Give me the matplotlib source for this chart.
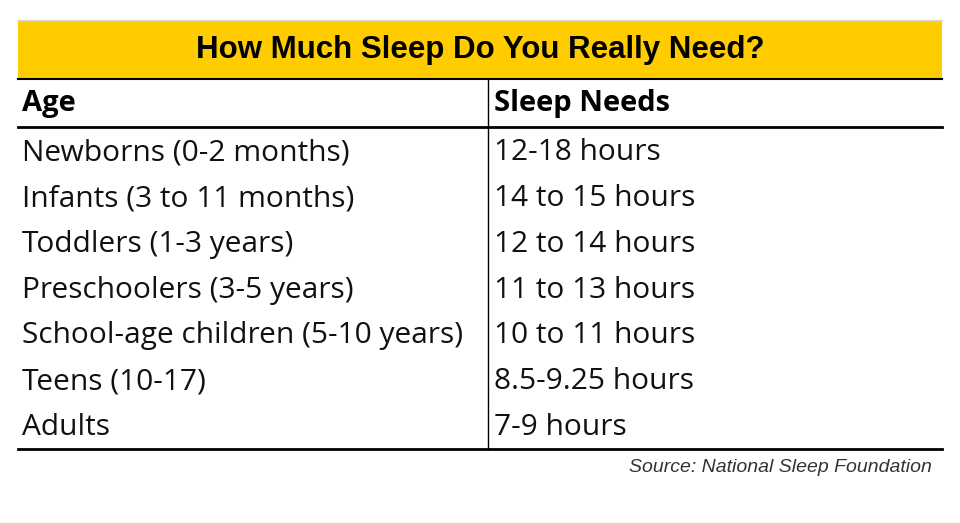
import matplotlib.pyplot as plt
from matplotlib.patches import Rectangle

title = "How Much Sleep Do You Really Need?"
headers = ["Age", "Sleep Needs"]
ages = ["Newborns (0-2 months)", "Infants (3 to 11 months)", "Toddlers (1-3 years)",
        "Preschoolers (3-5 years)", "School-age children (5-10 years)", "Teens (10-17)", "Adults"]
needs = ["12-18 hours", "14 to 15 hours", "12 to 14 hours", "11 to 13 hours",
         "10 to 11 hours", "8.5-9.25 hours", "7-9 hours"]
source = "Source: National Sleep Foundation"

fig = plt.figure(figsize=(9.6, 5.23), dpi=100)
ax = fig.add_axes([0, 0, 1, 1])
ax.set_xlim(0, 960)
ax.set_ylim(523, 0)
ax.axis("off")

# title band
ax.add_patch(Rectangle((18, 20), 924, 58, facecolor="#ffcc00", edgecolor="none"))
ax.plot([18, 942], [20, 20], color="#d9d9d9", lw=1)
ax.text(480, 50, title, ha="center", va="center", fontsize=22.5, fontweight="bold",
        family="Liberation Sans")

ax.plot([18, 942], [79, 79], color="black", lw=1.5)
ax.plot([18, 942], [127, 127], color="black", lw=2)
ax.plot([18, 942], [449, 449], color="black", lw=2)
ax.plot([488, 488], [79, 449], color="black", lw=1)

ax.text(22, 104, headers[0], fontweight="bold", family="Open Sans", fontsize=21, va="center")
ax.text(494, 104, headers[1], fontweight="bold", family="Open Sans", fontsize=21, va="center")

fnt = dict(family="Open Sans", fontsize=21.5, va="center", color="#111111")
for i, (a, n) in enumerate(zip(ages, needs)):
    y = 153 + i * 45.7
    ax.text(22, y, a, **fnt)
    ax.text(494, y, n, **fnt)

ax.text(932, 468, source, ha="right", va="center", fontsize=14, style="italic",
        color="#333333", family="Liberation Sans")

fig.savefig("out.png", dpi=100)
